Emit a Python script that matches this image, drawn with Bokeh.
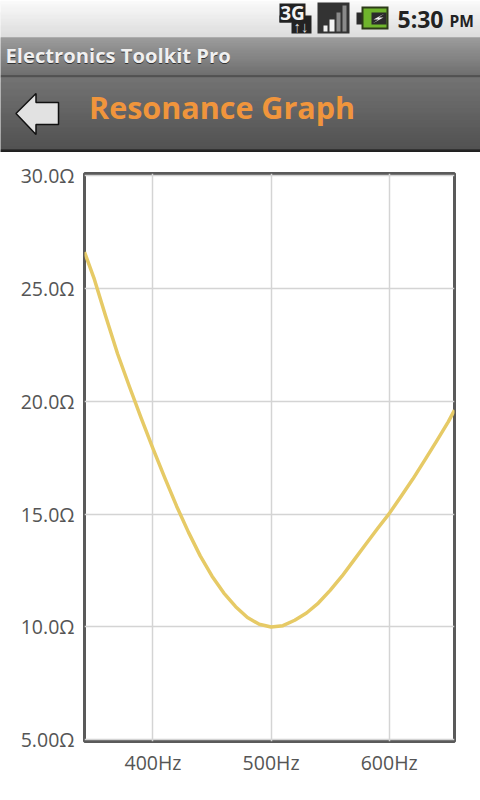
from bokeh.plotting import figure
from bokeh.layouts import column
from bokeh.models import Range1d, FixedTicker
from bokeh.core.properties import value
from bokeh.embed import file_html
from bokeh.resources import INLINE

# ---- data ----
freq_hz = [342.0, 350, 360, 370, 380, 390, 400, 410, 420, 430, 440, 450, 460, 470, 480, 490, 500,
           510, 520, 530, 540, 550, 560, 570, 580, 590, 600, 610, 620, 630, 640, 650, 655.3]
impedance = [26.6, 25.45, 23.75, 22.1, 20.65, 19.25, 17.9, 16.6, 15.35, 14.2, 13.15, 12.25, 11.5,
             10.9, 10.42, 10.12, 10.0, 10.06, 10.3, 10.62, 11.06, 11.62, 12.25, 12.95, 13.65,
             14.35, 15.02, 15.78, 16.55, 17.38, 18.22, 19.08, 19.6]
x_ticks = [400, 500, 600]
x_labels = ["400Hz", "500Hz", "600Hz"]
y_ticks = [5, 10, 15, 20, 25, 30]
y_labels = ["5.00Ω", "10.0Ω", "15.0Ω", "20.0Ω", "25.0Ω", "30.0Ω"]
app_name = "Electronics Toolkit Pro"
screen_title = "Resonance Graph"
clock = "5:30"
ampm = "PM"
FONT = "Open Sans"


def lerp(c1, c2, t):
    return "#%02x%02x%02x" % tuple(round(a + (b - a) * t) for a, b in zip(c1, c2))


# ---- header chrome: figure coordinates equal the reference's pixels ----
hdr = figure(width=480, height=152, output_backend="svg", toolbar_location=None,
             x_range=Range1d(0, 480), y_range=Range1d(152, 0),
             x_axis_type=None, y_axis_type=None, min_border=0, outline_line_color=None)
hdr.grid.visible = False
hdr.frame_align = False


def gradient(y0, y1, c1, c2):
    n = y1 - y0
    for i in range(n):
        col = lerp(c1, c2, i / max(n - 1, 1))
        hdr.quad(left=[0], right=[480], top=[y0 + i], bottom=[y0 + i + 1],
                 fill_color=col, line_color=col, line_width=0.3)


gradient(0, 37, (250, 250, 250), (216, 216, 216))
gradient(37, 75, (142, 142, 142), (92, 92, 92))
gradient(75, 77, (48, 48, 48), (60, 60, 60))
gradient(77, 149, (96, 96, 96), (58, 58, 58))
gradient(149, 152, (10, 10, 10), (0, 0, 0))


def txt(x, y, s, size, color, bold=True, align="left"):
    hdr.text(x=[x], y=[y], text=[s], text_font=value(FONT), text_font_size=f"{size}px",
             text_font_style="bold" if bold else "normal", text_color=color,
             text_align=align, text_baseline="middle")


def box(l, r, t, b, color):
    hdr.quad(left=[l], right=[r], top=[t], bottom=[b], fill_color=color, line_color=None)


# title bar text
txt(5, 55.5, app_name, 20.2, "#333333")
txt(5, 54.5, app_name, 20.2, "#f0f0f0")
txt(88.5, 106, screen_title, 30.5, "#f0953c")

# back arrow
hdr.patch(x=[15.5, 35.5, 35.5, 58, 58, 35.5, 35.5], y=[113, 93, 102, 102, 124, 124, 134],
          fill_color="#e2e2e2", line_color="#111111", line_width=1.5)

# 3G icon
box(279, 305, 3, 22, "#222222")
box(291, 311, 15, 33, "#222222")
box(279, 291, 15, 22, "#222222")
txt(292, 12, "3G", 19, "#f4f4f4", align="center")
txt(300.5, 25, "↑↓", 15, "#d8d8d8", align="center")

# signal icon
box(317, 349, 2, 33, "#333333")
box(323, 327, 25, 31, "#f2f2f2")
box(329, 334, 19, 31, "#f2f2f2")
box(336, 340, 12, 31, "#8a8a8a")
box(342, 346, 5, 31, "#8a8a8a")

# battery icon
box(356, 362, 12, 24, "#2a2a2a")
box(361, 388, 6, 29, "#2c3a18")
box(363, 386, 8, 27, "#6fb52c")
box(371, 386, 12, 24, "#2b2b2b")
hdr.patch(x=[384, 373, 378, 372, 383, 378], y=[13, 19, 19, 23, 17, 17], fill_color="#f0f0f0", line_color=None)

# clock
txt(397, 18.5, clock, 23, "#222222")
txt(449, 20.5, ampm, 15.5, "#222222")

# ---- chart ----
p = figure(width=480, height=648, output_backend="svg", toolbar_location=None,
           x_range=Range1d(342.0, 655.3), y_range=Range1d(4.93, 30.08),
           min_border_left=84, min_border_right=26, min_border_top=21, min_border_bottom=59,
           background_fill_color="white", border_fill_color="white")
p.frame_align = False
p.outline_line_color = "#5a5a5a"
p.outline_line_width = 3
p.line(freq_hz, impedance, line_color="#e6ca66", line_width=3.5, line_join="round")

p.xaxis.ticker = FixedTicker(ticks=x_ticks)
p.yaxis.ticker = FixedTicker(ticks=y_ticks)
p.xaxis.major_label_overrides = dict(zip(x_ticks, x_labels))
p.yaxis.major_label_overrides = dict(zip(y_ticks, y_labels))
for ax in (p.xaxis, p.yaxis):
    ax.axis_line_color = None
    ax.major_tick_line_color = None
    ax.minor_tick_line_color = None
    ax.major_label_text_font = FONT
    ax.major_label_text_font_size = "19.5px"
    ax.major_label_text_color = "#555555"
p.xaxis.major_label_standoff = 1
p.yaxis.major_label_standoff = 4
p.grid.grid_line_color = "#d4d4d4"
p.grid.grid_line_width = 1.5

layout = column(hdr, p, spacing=0)
open("out.html", "w").write(file_html(layout, INLINE))
